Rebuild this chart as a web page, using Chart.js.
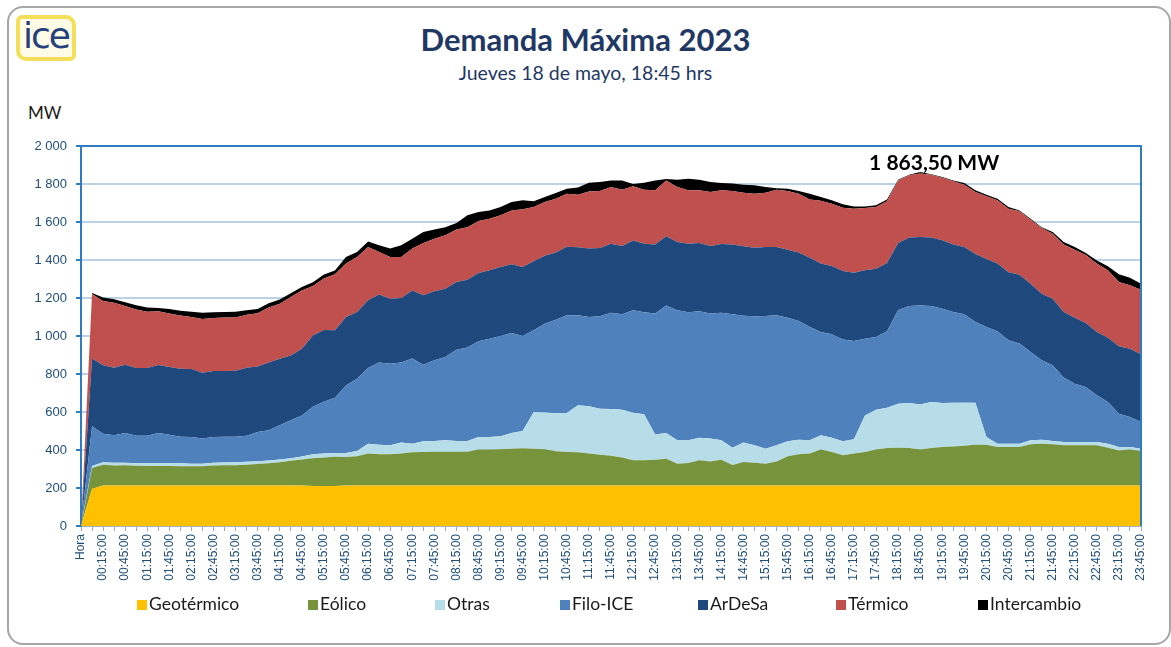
<!DOCTYPE html>
<html>
<head>
<meta charset="utf-8">
<title>Demanda Máxima 2023</title>
<script src="https://cdn.jsdelivr.net/npm/chart.js@4.4.1/dist/chart.umd.min.js"></script>
<style>
  html, body { margin: 0; padding: 0; background: #fff; }
  body { width: 1171px; height: 647px; position: relative; overflow: hidden; font-family: Lato, 'Open Sans', sans-serif; }
  #frame { position: absolute; left: 7px; top: 6px; width: 1164px; height: 639px; border: 2px solid #a6a6a6; border-radius: 16px; box-sizing: border-box; }
  #logo { position: absolute; left: 16px; top: 15px; width: 60px; height: 46px; box-sizing: border-box;
          border: 4px solid #f3df5a; border-radius: 6px 10px 6px 10px; background: #fffbe6;
          color: #25407d; font: 36px/34px 'DejaVu Sans', sans-serif; text-align: center; letter-spacing: -2px; }
  #title { position: absolute; left: 0; width: 1171px; top: 20px; text-align: center; font-weight: bold; font-size: 31px; color: #1f3864; }
  #subtitle { position: absolute; left: 0; width: 1171px; top: 61px; text-align: center; font-size: 19.5px; color: #1f3864; }
  #unit { position: absolute; left: 28px; top: 102px; font-size: 17px; color: #1a1a1a; }
  #chart { position: absolute; left: 0; top: 0; }
  #legend { position: absolute; left: 0; top: 594px; width: 1171px; height: 22px; }
  .item { position: absolute; top: 0; font-size: 17.5px; color: #1a1a1a; white-space: nowrap; line-height: 20px; }
  .item span { display: inline-block; width: 10px; height: 10px; margin-right: 2px; vertical-align: 0px; }
</style>
</head>
<body>
<div id="frame"></div>
<div id="logo">ice</div>
<div id="title">Demanda Máxima 2023</div>
<div id="subtitle">Jueves 18 de mayo, 18:45 hrs</div>
<div id="unit">MW</div>
<canvas id="chart" width="1171" height="647"></canvas>
<div id="legend"></div>
<script>
// categories: "Hora" header row, then every 15 minutes of the day
const horas = ['Hora'];
for (let m = 0; m < 24 * 60; m += 15) {
    const h = String(Math.floor(m / 60)).padStart(2, '0');
    const mm = String(m % 60).padStart(2, '0');
    horas.push(`${h}:${mm}:00`);
}

const seriesNames = ['Geotérmico', 'Eólico', 'Otras', 'Filo-ICE', 'ArDeSa', 'Térmico', 'Intercambio'];
const seriesColors = ['#ffc000', '#77933c', '#b7dee8', '#4f81bd', '#1f497d', '#c0504d', '#000000'];

// MW per 15 min
const geotermico = [
    0, 196, 213, 213, 213, 213, 213, 213, 213, 213,
    213, 213, 213, 213, 213, 213, 213, 213, 213, 213,
    213, 211, 210, 211, 213, 213, 213, 213, 213, 213,
    213, 213, 213, 213, 213, 213, 213, 213, 213, 213,
    213, 213, 213, 213, 213, 213, 213, 213, 213, 213,
    213, 213, 213, 213, 213, 213, 213, 213, 213, 213,
    213, 213, 213, 213, 213, 213, 213, 213, 213, 213,
    213, 213, 213, 213, 213, 213, 213, 213, 213, 213,
    213, 213, 213, 213, 213, 213, 213, 213, 213, 213,
    213, 213, 213, 213, 213, 213, 213
];
const eolico = [
    0, 109, 110, 106, 107, 104, 103, 103, 103, 102,
    101, 102, 105, 107, 107, 110, 113, 117, 123, 130,
    137, 145, 150, 154, 150, 154, 168, 164, 164, 168,
    175, 176, 178, 178, 178, 178, 189, 189, 191, 194,
    196, 194, 191, 180, 176, 175, 168, 162, 157, 147,
    133, 133, 136, 141, 115, 119, 133, 127, 136, 108,
    124, 120, 115, 127, 154, 164, 168, 189, 176, 159,
    168, 176, 189, 197, 199, 197, 189, 197, 203, 206,
    210, 215, 215, 203, 203, 203, 217, 220, 217, 212,
    212, 212, 212, 199, 185, 189, 182
];
const otras = [
    0, 11, 12, 14, 13, 13, 14, 14, 14, 15,
    14, 13, 15, 14, 15, 15, 15, 15, 14, 14,
    16, 21, 22, 19, 21, 28, 52, 51, 48, 58,
    45, 57, 56, 60, 56, 56, 66, 66, 68, 82,
    91, 193, 194, 200, 206, 247, 249, 242, 246, 252,
    250, 242, 133, 135, 123, 119, 119, 120, 102, 91,
    102, 92, 79, 85, 79, 77, 70, 75, 76, 74,
    75, 193, 210, 213, 232, 237, 238, 243, 231, 230,
    226, 221, 40, 17, 17, 17, 21, 21, 17, 17,
    17, 17, 17, 21, 18, 14, 12
];
const filoICE = [
    0, 209, 151, 144, 156, 145, 145, 159, 150, 140,
    140, 132, 135, 136, 135, 137, 154, 159, 180, 199,
    216, 250, 272, 291, 356, 380, 399, 432, 429, 421,
    448, 403, 425, 438, 481, 492, 504, 518, 528, 527,
    500, 430, 467, 493, 514, 474, 470, 487, 507, 502,
    539, 537, 637, 672, 684, 674, 665, 658, 672, 702,
    668, 679, 698, 684, 650, 625, 596, 544, 544, 536,
    518, 404, 383, 402, 491, 511, 521, 505, 497, 477,
    465, 425, 579, 592, 544, 527, 465, 418, 399, 339,
    307, 290, 246, 220, 175, 158, 141
];
const ardesa = [
    0, 356, 360, 356, 360, 357, 357, 358, 357, 358,
    358, 347, 348, 346, 347, 358, 345, 356, 350, 342,
    351, 375, 378, 355, 360, 351, 356, 358, 342, 340,
    359, 365, 363, 360, 356, 357, 360, 360, 363, 361,
    363, 363, 358, 354, 361, 358, 361, 359, 363, 360,
    368, 361, 363, 364, 360, 361, 359, 356, 361, 367,
    365, 361, 363, 359, 358, 360, 365, 360, 359, 360,
    359, 360, 359, 359, 354, 360, 360, 360, 360, 356,
    354, 358, 358, 357, 358, 363, 359, 351, 350, 345,
    347, 336, 333, 338, 355, 359, 356
];
const termico = [
    0, 340, 338, 342, 309, 308, 296, 283, 281, 280,
    274, 283, 279, 281, 281, 279, 280, 290, 290, 307,
    307, 261, 270, 295, 281, 290, 280, 224, 220, 216,
    220, 275, 277, 281, 277, 277, 273, 271, 272, 284,
    304, 286, 282, 283, 279, 277, 300, 300, 298, 296,
    285, 284, 285, 294, 289, 281, 278, 284, 283, 282,
    282, 284, 286, 302, 309, 310, 306, 331, 328, 333,
    337, 328, 325, 325, 330, 328, 334, 331, 329, 332,
    328, 326, 330, 332, 335, 333, 337, 345, 342, 355,
    358, 358, 361, 355, 338, 334, 340
];
const intercambio = [
    0, 5, 18, 18, 20, 22, 22, 18, 24, 25,
    28, 32, 30, 29, 30, 24, 22, 22, 22, 20,
    18, 20, 22, 20, 35, 26, 30, 35, 44, 61,
    52, 58, 49, 43, 34, 62, 48, 44, 44, 44,
    47, 30, 27, 30, 26, 37, 46, 48, 35, 49,
    12, 37, 52, 7, 39, 61, 56, 53, 38, 39,
    42, 44, 30, 7, 12, 14, 31, 20, 18, 18,
    12, 8, 9, 9, 4, 3, 8.5, 2, 4, 5,
    9, 9, 9, 9, 9, 5, 5, 5, 9, 14,
    14, 11, 16, 21, 41, 40, 31
];

const yTicks = [0, 200, 400, 600, 800, 1000, 1200, 1400, 1600, 1800, 2000];
const peakText = '1 863,50 MW';

const seriesValues = [geotermico, eolico, otras, filoICE, ardesa, termico, intercambio];

// total demand -> where the peak label goes
const totals = horas.map((_, i) => seriesValues.reduce((s, arr) => s + arr[i], 0));
const peakIndex = totals.indexOf(Math.max(...totals));

function fmtMW(v) {
    if (v < 1000) return String(v);
    return Math.floor(v / 1000) + ' ' + String(v % 1000).padStart(3, '0');
}

const AXIS_BLUE = '#2e7cc4';

const frameLines = {
    id: 'frameLines',
    afterDatasetsDraw(chart) {
        const { ctx, chartArea: a } = chart;
        ctx.save();
        ctx.strokeStyle = AXIS_BLUE;
        ctx.lineWidth = 2;
        ctx.beginPath();
        ctx.moveTo(a.left, a.top);
        ctx.lineTo(a.right, a.top);
        ctx.lineTo(a.right, a.bottom);
        ctx.stroke();
        ctx.restore();
    }
};

const peakLabel = {
    id: 'peakLabel',
    afterDatasetsDraw(chart) {
        const { ctx, scales: { x, y } } = chart;
        const px = x.getPixelForValue(peakIndex);
        const py = y.getPixelForValue(totals[peakIndex]);
        ctx.save();
        ctx.font = 'bold 21px Lato, sans-serif';
        ctx.fillStyle = '#000';
        ctx.textAlign = 'center';
        ctx.textBaseline = 'bottom';
        ctx.fillText(peakText, px + 14, py + 2);
        ctx.restore();
    }
};

new Chart(document.getElementById('chart'), {
    type: 'line',
    data: {
        labels: horas,
        datasets: seriesValues.map((vals, k) => ({
            label: seriesNames[k],
            data: vals,
            backgroundColor: seriesColors[k],
            borderColor: seriesColors[k],
            borderWidth: 0,
            pointRadius: 0,
            tension: 0,
            fill: k === 0 ? 'origin' : '-1'
        }))
    },
    options: {
        responsive: false,
        animation: false,
        devicePixelRatio: 1,
        layout: { padding: { left: 0, top: 146, right: 30, bottom: 0 } },
        plugins: {
            legend: { display: false },
            tooltip: { enabled: false }
        },
        scales: {
            x: {
                offset: false,
                afterFit: (s) => { s.height = 121; },
                border: { display: true, color: '#9fb4c9', width: 1 },
                grid: {
                    drawOnChartArea: false,
                    drawTicks: true,
                    tickLength: 5,
                    tickColor: '#a6a6a6'
                },
                ticks: {
                    autoSkip: false,
                    minRotation: 90,
                    maxRotation: 90,
                    padding: 3,
                    color: '#1f4e79',
                    font: { family: "'Liberation Sans', Arial, sans-serif", size: 12 },
                    callback: (v, i) => (i % 2 === 0 ? horas[i] : '')
                }
            },
            y: {
                stacked: true,
                min: 0,
                max: 2000,
                afterFit: (s) => { s.width = 81; },
                afterBuildTicks: (s) => { s.ticks = yTicks.map(v => ({ value: v })); },
                border: { display: true, color: AXIS_BLUE, width: 2 },
                grid: {
                    color: (c) => (c.tick && (c.tick.value === 0 || c.tick.value === 2000) ? 'rgba(0,0,0,0)' : '#bcd0e6'),
                    lineWidth: 2,
                    tickLength: 5,
                    tickColor: AXIS_BLUE
                },
                ticks: {
                    padding: 9,
                    color: '#1f4e79',
                    font: { family: "'Liberation Sans', Arial, sans-serif", size: 13 },
                    callback: (v) => fmtMW(v)
                }
            }
        }
    },
    plugins: [frameLines, peakLabel]
});

// legend
const legendX = [137, 308, 435, 560, 698, 836, 978];
const legend = document.getElementById('legend');
seriesNames.forEach((name, k) => {
    const d = document.createElement('div');
    d.className = 'item';
    d.style.left = legendX[k] + 'px';
    d.innerHTML = `<span style="background:${seriesColors[k]}"></span>${name}`;
    legend.appendChild(d);
});
</script>
</body>
</html>
